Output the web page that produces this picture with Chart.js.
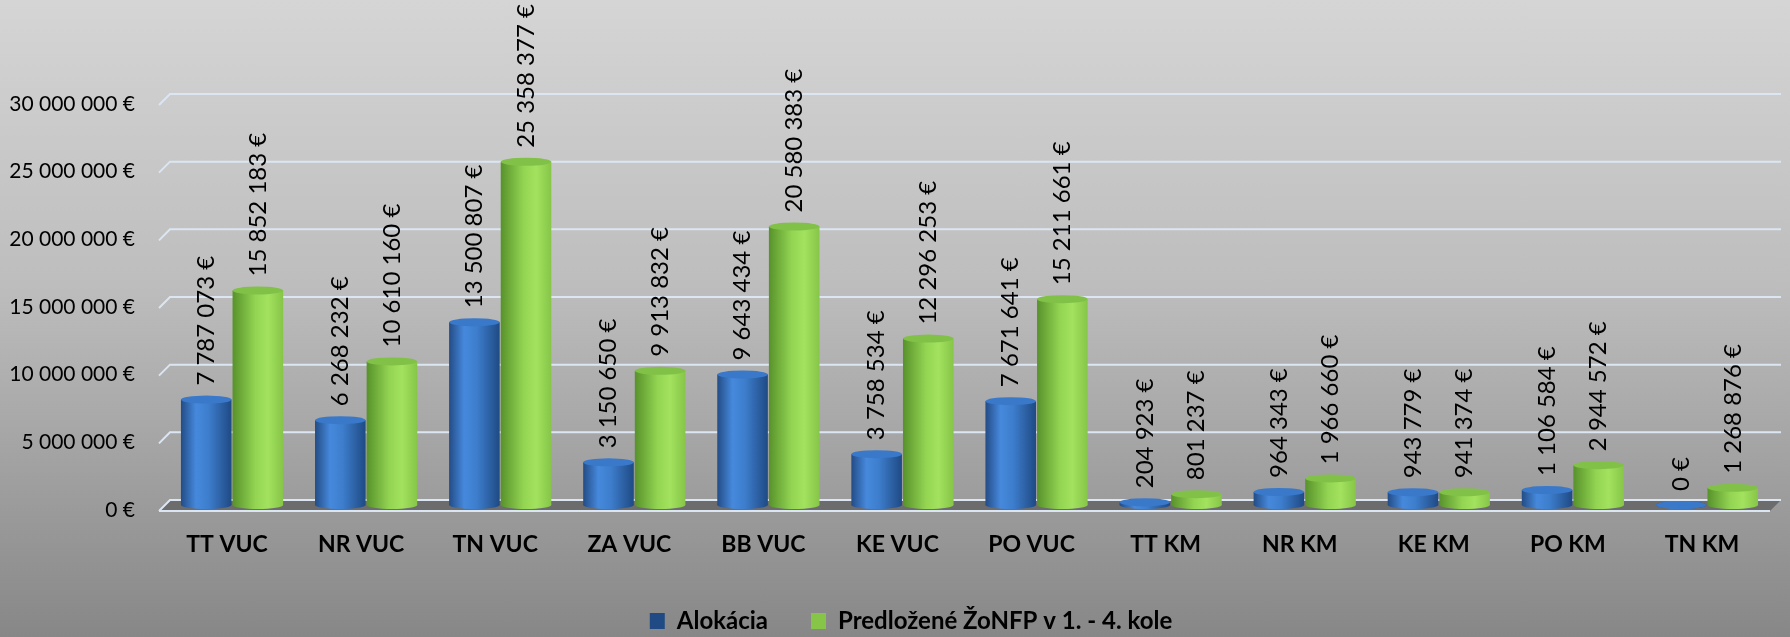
<!DOCTYPE html>
<html>
<head>
<meta charset="utf-8">
<title>Alokácia a predložené ŽoNFP</title>
<script src="https://cdn.jsdelivr.net/npm/chart.js@4.4.1/dist/chart.umd.min.js"></script>
<style>
  html, body { margin: 0; padding: 0; }
  #wrap {
    position: relative;
    width: 1790px;
    height: 637px;
    background: linear-gradient(to bottom, #d5d5d5 0%, #bdbdbd 45%, #878787 100%);
  }
</style>
</head>
<body>
<div id="wrap"><canvas id="chart"></canvas></div>
<script>
// Data
const categories = ['TT VUC', 'NR VUC', 'TN VUC', 'ZA VUC', 'BB VUC', 'KE VUC', 'PO VUC',
  'TT KM', 'NR KM', 'KE KM', 'PO KM', 'TN KM'];
const alokacia = [7787073, 6268232, 13500807, 3150650, 9643434, 3758534, 7671641,
  204923, 964343, 943779, 1106584, 0];
const predlozene = [15852183, 10610160, 25358377, 9913832, 20580383, 12296253, 15211661,
  801237, 1966660, 941374, 2944572, 1268876];
const yTicks = [0, 5000000, 10000000, 15000000, 20000000, 25000000, 30000000];
const seriesNames = ['Alokácia', 'Predložené ŽoNFP v 1. - 4. kole'];

// Look
const FONT = 'Lato, "Open Sans", sans-serif';
const CAT_PCT = 0.77;
const BAR_PCT = 0.98;
const DEPTH = 11;       // depth of the 3D floor
const WALL_SHIFT = 5;   // back wall sits a bit above the bars' front
const CAP_RY = 4;       // ellipse radius of cylinder caps
const LABEL_GAP = 14;
const LEGEND_SHIFT = 24;

const blueStops = [[0, '#234c86'], [0.3, '#4689dc'], [0.55, '#3d7dcc'], [1, '#1f4a84']];
const greenStops = [[0, '#57922b'], [0.45, '#93d452'], [0.7, '#a2e25e'], [1, '#86c548']];

function fmt(v) {
  return String(v).replace(/\B(?=(\d{3})+(?!\d))/g, ' ') + ' €';
}

/**
 * Horizontal gradient per bar so it looks like a cylinder
 */
function cylinderFill(stops, fallback) {
  return (ctx) => {
    if (ctx.type !== 'data') return fallback;
    const chart = ctx.chart;
    const x = chart.scales.x;
    if (!x || !chart.chartArea) return fallback;
    const range = (x.width / categories.length) * CAT_PCT;
    const center = x.getPixelForValue(ctx.dataIndex) + (ctx.datasetIndex === 0 ? -range / 4 : range / 4);
    const half = (range / 4) * BAR_PCT;
    const g = chart.ctx.createLinearGradient(center - half, 0, center + half, 0);
    stops.forEach(([o, c]) => g.addColorStop(o, c));
    return g;
  };
}

function ellipse(ctx, cx, cy, rx, ry) {
  ctx.beginPath();
  ctx.ellipse(cx, cy, rx, ry, 0, 0, Math.PI * 2);
  ctx.fill();
}

// back wall gridlines + floor
const wallPlugin = {
  id: 'wall',
  afterLayout(chart) {
    // legend in the original sits a little right of the canvas centre
    if (chart.legend) {
      chart.legend.left += LEGEND_SHIFT;
      chart.legend.right += LEGEND_SHIFT;
    }
  },
  beforeDatasetsDraw(chart) {
    const { ctx, chartArea } = chart;
    const y = chart.scales.y;
    const left = chartArea.left + 5;
    const right = chartArea.right + 7;
    const y0 = y.getPixelForValue(0) - WALL_SHIFT;

    ctx.save();
    ctx.fillStyle = '#6c6c6c';
    ctx.beginPath();
    ctx.moveTo(left, y0);
    ctx.lineTo(right, y0);
    ctx.lineTo(right - DEPTH, y0 + DEPTH);
    ctx.lineTo(left - DEPTH, y0 + DEPTH);
    ctx.closePath();
    ctx.fill();

    ctx.strokeStyle = '#dce6f2';
    ctx.lineWidth = 2;
    yTicks.forEach(v => {
      const py = y.getPixelForValue(v) - WALL_SHIFT;
      ctx.beginPath();
      ctx.moveTo(left - DEPTH, py + DEPTH);
      ctx.lineTo(left, py);
      ctx.lineTo(right, py);
      ctx.stroke();
    });
    ctx.beginPath();
    ctx.moveTo(left - DEPTH, y0 + DEPTH);
    ctx.lineTo(right - DEPTH, y0 + DEPTH);
    ctx.stroke();
    ctx.restore();
  }
};

// cylinder caps and rotated value labels
const capsPlugin = {
  id: 'caps',
  beforeDatasetsDraw(chart) {
    const ctx = chart.ctx;
    ctx.save();
    chart.data.datasets.forEach((ds, di) => {
      chart.getDatasetMeta(di).data.forEach(bar => {
        ctx.fillStyle = bar.options.backgroundColor;
        ellipse(ctx, bar.x, bar.base, bar.width / 2, CAP_RY);
      });
    });
    ctx.restore();
  },
  afterDatasetsDraw(chart) {
    const ctx = chart.ctx;
    ctx.save();
    chart.data.datasets.forEach((ds, di) => {
      chart.getDatasetMeta(di).data.forEach((bar, i) => {
        ctx.fillStyle = ds.capColor;
        ellipse(ctx, bar.x, bar.y, bar.width / 2, CAP_RY);

        ctx.save();
        ctx.translate(bar.x, bar.y - LABEL_GAP);
        ctx.rotate(-Math.PI / 2);
        ctx.font = '24px ' + FONT;
        ctx.fillStyle = '#000';
        ctx.textAlign = 'left';
        ctx.textBaseline = 'middle';
        ctx.fillText(fmt(ds.data[i]), 0, 0);
        ctx.restore();
      });
    });
    ctx.restore();
  }
};

new Chart(document.getElementById('chart'), {
  type: 'bar',
  data: {
    labels: categories,
    datasets: [
      {
        label: seriesNames[0],
        data: alokacia,
        backgroundColor: cylinderFill(blueStops, '#3a78c9'),
        capColor: '#3a79c9',
        borderWidth: 0,
        categoryPercentage: CAT_PCT,
        barPercentage: BAR_PCT
      },
      {
        label: seriesNames[1],
        data: predlozene,
        backgroundColor: cylinderFill(greenStops, '#92d050'),
        capColor: '#82c148',
        borderWidth: 0,
        categoryPercentage: CAT_PCT,
        barPercentage: BAR_PCT
      }
    ]
  },
  options: {
    responsive: true,
    maintainAspectRatio: false,
    animation: false,
    layout: {
      padding: { top: 99, right: 16, left: 0, bottom: -6 }
    },
    plugins: {
      legend: {
        position: 'bottom',
        labels: {
          boxWidth: 15,
          boxHeight: 16,
          padding: 43,
          color: '#000',
          font: { family: FONT, size: 24, weight: 'bold' }
        }
      },
      tooltip: { enabled: false }
    },
    scales: {
      x: {
        grid: { display: false, drawTicks: false },
        border: { display: false },
        ticks: {
          padding: 26,
          labelOffset: -5,
          color: '#000',
          font: { family: FONT, size: 23, weight: 'bold' }
        },
        afterFit(scale) { scale.height = 61; }
      },
      y: {
        min: 0,
        max: 30000000,
        grid: { display: false, drawTicks: false },
        border: { display: false },
        afterBuildTicks(scale) { scale.ticks = yTicks.map(v => ({ value: v })); },
        ticks: {
          padding: 30,
          labelOffset: 5,
          color: '#000',
          font: { family: FONT, size: 21 },
          callback: (v) => fmt(v)
        },
        afterFit(scale) { scale.width = 165; }
      }
    }
  },
  plugins: [wallPlugin, capsPlugin]
});
</script>
</body>
</html>
